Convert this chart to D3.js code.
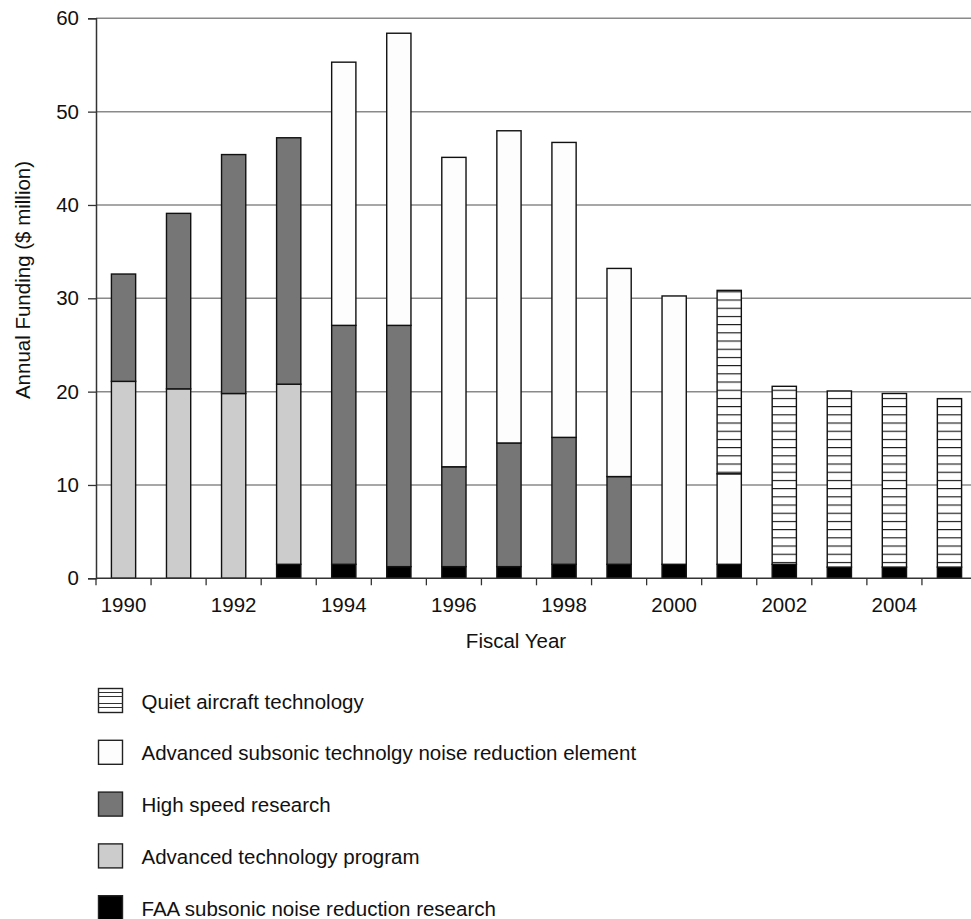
<!DOCTYPE html>
<html>
<head>
<meta charset="utf-8">
<script src="https://cdn.jsdelivr.net/npm/d3@7/dist/d3.min.js"></script>
<style>
  html, body { margin: 0; padding: 0; background: #fff; }
  svg { display: block; font-family: "Liberation Sans", Arial, Helvetica, sans-serif; }
</style>
</head>
<body>
<svg id="chart" width="971" height="919"></svg>
<script>
// Fiscal years
const years = [1990, 1991, 1992, 1993, 1994, 1995, 1996, 1997, 1998, 1999, 2000, 2001, 2002, 2003, 2004, 2005];

// Annual funding by program ($ million)
const faaSubsonic   = [0, 0, 0, 1.5, 1.5, 1.25, 1.25, 1.25, 1.5, 1.5, 1.5, 1.5, 1.5, 1.2, 1.2, 1.2];
const advancedTech  = [21.1, 20.3, 19.8, 19.3, 0, 0, 0, 0, 0, 0, 0, 0, 0, 0, 0, 0];
const highSpeed     = [11.5, 18.8, 25.6, 26.4, 25.6, 25.85, 10.7, 13.25, 13.6, 9.4, 0, 0, 0, 0, 0, 0];
const advSubsonic   = [0, 0, 0, 0, 28.2, 31.3, 33.15, 33.45, 31.6, 22.3, 28.75, 9.7, 0, 0, 0, 0];
const quietAircraft = [0, 0, 0, 0, 0, 0, 0, 0, 0, 0, 0, 19.65, 19.07, 18.87, 18.6, 18.05];

const yTicks = [0, 10, 20, 30, 40, 50, 60];
const xLabelYears = [1990, 1992, 1994, 1996, 1998, 2000, 2002, 2004];

// Series, bottom of the stack first
const seriesKeys = ["faa", "atp", "hsr", "ast", "qat"];
const seriesNames = {
  qat: "Quiet aircraft technology",
  ast: "Advanced subsonic technolgy noise reduction element",
  hsr: "High speed research",
  atp: "Advanced technology program",
  faa: "FAA subsonic noise reduction research"
};
const legendOrder = ["qat", "ast", "hsr", "atp", "faa"];

const rows = years.map((y, i) => ({
  year: y,
  faa: faaSubsonic[i],
  atp: advancedTech[i],
  hsr: highSpeed[i],
  ast: advSubsonic[i],
  qat: quietAircraft[i]
}));

const svg = d3.select("#chart");
const FONT = 20.5;

// Hatched fill for the quiet aircraft program
const defs = svg.append("defs");
const pat = defs.append("pattern")
  .attr("id", "hatch")
  .attr("patternUnits", "userSpaceOnUse")
  .attr("width", 8).attr("height", 8.2)
  .attr("y", 578.3);
pat.append("rect").attr("width", 8).attr("height", 8.2).attr("fill", "#fff");
pat.append("line").attr("x1", 0).attr("x2", 8).attr("y1", 0.5).attr("y2", 0.5)
  .attr("stroke", "#111").attr("stroke-width", 1.2);

const fills = {
  faa: "#000000",
  atp: "#cccccc",
  hsr: "#767676",
  ast: "#fdfdfd",
  qat: "url(#hatch)"
};

const x = d3.scaleBand().domain(years).range([96, 977]).padding(0);
const y = d3.scaleLinear().domain([0, 60]).range([578.3, 18.3]);
const barW = x.bandwidth() * 0.44;

// Horizontal gridlines
svg.append("g")
  .selectAll("line")
  .data(yTicks.filter(t => t > 0))
  .join("line")
  .attr("x1", 96).attr("x2", 971)
  .attr("y1", d => y(d)).attr("y2", d => y(d))
  .attr("stroke", "#8a8a8a").attr("stroke-width", 1.5);

// Stacked bars
const stacked = d3.stack().keys(seriesKeys)(rows);
svg.append("g")
  .selectAll("g")
  .data(stacked)
  .join("g")
  .attr("fill", d => fills[d.key])
  .selectAll("rect")
  .data(d => d.filter(s => s[1] - s[0] > 0))
  .join("rect")
  .attr("x", d => x(d.data.year) + (x.bandwidth() - barW) / 2)
  .attr("width", barW)
  .attr("y", d => y(d[1]))
  .attr("height", d => y(d[0]) - y(d[1]))
  .attr("stroke", "#111")
  .attr("stroke-width", 1.4);

// Y axis
const yAxis = d3.axisLeft(y).tickValues(yTicks).tickSize(8).tickPadding(9).tickFormat(d3.format("d"));
const gy = svg.append("g").attr("transform", "translate(96,0)").call(yAxis);
gy.select(".domain").attr("stroke", "#333").attr("stroke-width", 1.5);
gy.selectAll(".tick line").attr("stroke", "#333").attr("stroke-width", 1.3);
gy.selectAll(".tick text").attr("font-size", FONT).attr("fill", "#111").attr("font-family", null);

// X axis: ticks at category boundaries, labels every other year
const gx = svg.append("g").attr("transform", `translate(0,${y(0)})`);
gx.append("line")
  .attr("x1", 96).attr("x2", 977)
  .attr("stroke", "#333").attr("stroke-width", 1.5);
gx.selectAll("line.tk")
  .data(years.concat([null]))
  .join("line")
  .attr("class", "tk")
  .attr("x1", (d, i) => i < years.length ? x(d) : x(years[years.length - 1]) + x.bandwidth())
  .attr("x2", (d, i) => i < years.length ? x(d) : x(years[years.length - 1]) + x.bandwidth())
  .attr("y1", 0).attr("y2", 7)
  .attr("stroke", "#333").attr("stroke-width", 1.3);
gx.selectAll("text")
  .data(xLabelYears)
  .join("text")
  .attr("x", d => x(d) + x.bandwidth() / 2)
  .attr("y", 34)
  .attr("text-anchor", "middle")
  .attr("font-size", FONT)
  .attr("fill", "#111")
  .text(d => d);

// Axis titles
svg.append("text")
  .attr("x", 516).attr("y", 648)
  .attr("text-anchor", "middle")
  .attr("font-size", FONT)
  .attr("fill", "#111")
  .text("Fiscal Year");

svg.append("text")
  .attr("transform", "translate(30,280) rotate(-90)")
  .attr("text-anchor", "middle")
  .attr("font-size", FONT)
  .attr("fill", "#111")
  .text("Annual Funding ($ million)");

// Legend
const legend = svg.append("g")
  .selectAll("g")
  .data(legendOrder)
  .join("g")
  .attr("transform", (d, i) => `translate(98.5,${688.5 + i * 51.8})`);
legend.append("rect")
  .attr("width", 24).attr("height", 24)
  .attr("fill", d => d === "qat" ? "#fff" : fills[d])
  .attr("stroke", "#222").attr("stroke-width", 1.4);
legend.filter(d => d === "qat")
  .selectAll("line")
  .data([4, 8, 15, 19])
  .join("line")
  .attr("x1", 0).attr("x2", 24)
  .attr("y1", d => d).attr("y2", d => d)
  .attr("stroke", "#333").attr("stroke-width", 1);
legend.append("text")
  .attr("x", 43).attr("y", 20)
  .attr("font-size", FONT)
  .attr("fill", "#111")
  .text(d => seriesNames[d]);
</script>
</body>
</html>
